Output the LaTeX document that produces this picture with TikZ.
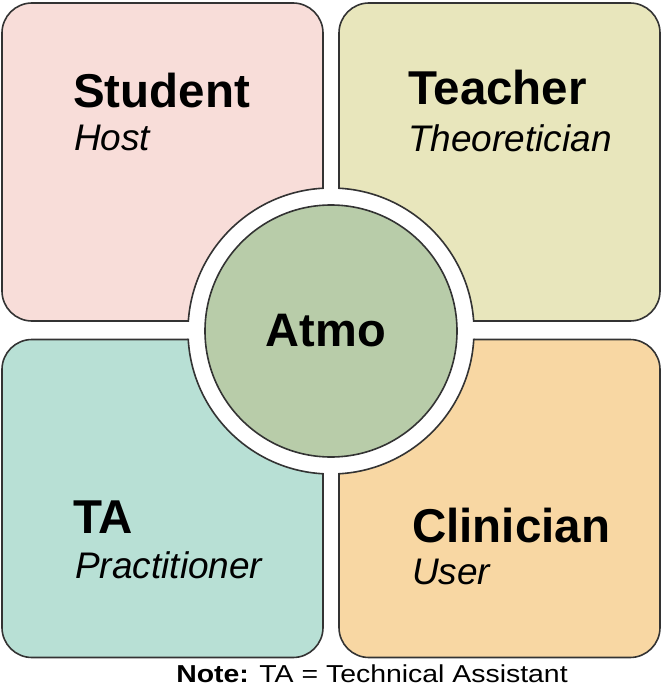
\documentclass[tikz,border=0pt]{standalone}
\usepackage{fontspec}
\setmainfont{Liberation Sans}
\usetikzlibrary{backgrounds}

\definecolor{pinkq}{HTML}{F8DDD9}
\definecolor{oliveq}{HTML}{E8E6BC}
\definecolor{tealq}{HTML}{B8E0D5}
\definecolor{peachq}{HTML}{F8D7A3}
\definecolor{sageq}{HTML}{B8CCA9}
\definecolor{edgeq}{HTML}{333333}

\begin{document}
\begin{tikzpicture}[x=1pt,y=-1pt]
        \tikzstyle{quad}=[draw=edgeq,line width=1.6pt,rounded corners=30pt,minimum width=321pt,minimum height=318pt,inner sep=0pt]
        \tikzstyle{title}=[anchor=base west,inner sep=0pt,font=\fontsize{47.5}{50}\selectfont\bfseries]
        \tikzstyle{role}=[anchor=base west,inner sep=0pt,font=\fontsize{37}{40}\selectfont\itshape]

        \useasboundingbox (0,0) rectangle (661,688);

        \draw node at (162.5, 162) [quad, fill=pinkq] (student) {};
        \draw node at (499.5, 162) [quad, fill=oliveq] (teacher) {};
        \draw node at (162.5, 498.5) [quad, fill=tealq] (ta) {};
        \draw node at (499.5, 498.5) [quad, fill=peachq] (clinician) {};

        % white ring round the hub, outline only inside the squares
        \fill[white] (331, 331) circle (143pt);
        \foreach \q in {student, teacher, ta, clinician} {
            \begin{scope}
                \clip[rounded corners=30pt] (\q.south west) rectangle (\q.north east);
                \draw[edgeq, line width=1.6pt] (331, 331) circle (143pt);
            \end{scope}
        }
        \draw node at (331, 331) [circle, draw=edgeq, line width=1.6pt, fill=sageq, minimum size=252pt, inner sep=0pt] (hub) {};
        \draw node at (326, 346) [anchor=base, inner sep=0pt, font=\fontsize{47}{50}\selectfont\bfseries] (atmo) {Atmo};

        \draw node at (73, 107) [title] (studentname) {Student};
        \draw node at (74, 150) [role] (studentrole) {Host};
        \draw node at (408, 104) [title] (teachername) {Teacher};
        \draw node at (408, 151) [role] (teacherrole) {Theoretician};
        \draw node at (73, 533) [title] (taname) {TA};
        \draw node at (75, 578) [role] (tarole) {Practitioner};
        \draw node at (412, 542) [title] (clinicianname) {Clinician};
        \draw node at (412, 584) [role] (clinicianrole) {User};

        \draw node at (372, 682) [anchor=base, inner sep=0pt, xscale=1.16, transform shape, font=\fontsize{24.5}{28}\selectfont] (note) {\textbf{Note:} TA = Technical Assistant};
    \end{tikzpicture}
\end{document}
